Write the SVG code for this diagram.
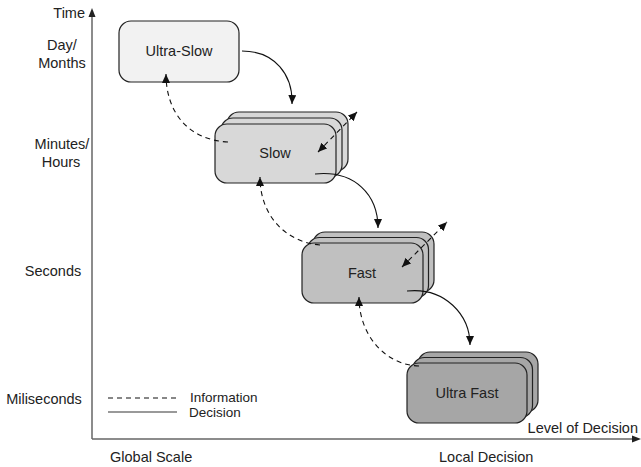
<svg xmlns="http://www.w3.org/2000/svg" width="641" height="467" viewBox="0 0 641 467">
  <defs>
    <style>
      text { font-family: "Liberation Sans", Arial, sans-serif; font-size: 14.5px; fill: #222; }
      .mid { text-anchor: middle; }
      .legend text { font-size: 13.5px; }
      .card { stroke: #222; stroke-width: 1.2; }
      .c1 { fill: #f2f2f2; }
      .c2 { fill: #d8d8d8; }
      .c3 { fill: #c0c0c0; }
      .c4 { fill: #a6a6a6; }
      .axis { stroke: #666; stroke-width: 1.5; fill: none; }
      .dec { stroke: #111; stroke-width: 1.1; fill: none; }
      .info { stroke: #111; stroke-width: 1.1; fill: none; stroke-dasharray: 5 4; }
    </style>
    <marker id="arr" markerUnits="userSpaceOnUse" markerWidth="10" markerHeight="8" refX="9" refY="4" orient="auto">
      <path d="M0,0 L9,4 L0,8 Z" fill="#111"/>
    </marker>
    <marker id="arrStart" markerUnits="userSpaceOnUse" markerWidth="10" markerHeight="8" refX="1" refY="4" orient="auto">
      <path d="M10,0 L1,4 L10,8 Z" fill="#111"/>
    </marker>
  </defs>

  <!-- axes -->
  <g id="axes">
    <line class="axis" x1="92" y1="439" x2="92" y2="15"/>
    <path d="M92,8 L95.5,17 L88.5,17 Z" fill="#222"/>
    <line class="axis" x1="92" y1="439" x2="634" y2="439"/>
    <path d="M641,439 L632,435.5 L632,442.5 Z" fill="#222"/>
    <text x="85" y="18" text-anchor="end">Time</text>
    <text x="62" y="50" class="mid">Day/</text>
    <text x="62" y="68" class="mid">Months</text>
    <text x="62" y="149" class="mid">Minutes/</text>
    <text x="61" y="167" class="mid">Hours</text>
    <text x="53" y="276" class="mid">Seconds</text>
    <text x="44" y="404" class="mid">Miliseconds</text>
    <text x="638" y="433" text-anchor="end">Level of Decision</text>
    <text x="110" y="462">Global Scale</text>
    <text x="439" y="462">Local Decision</text>
  </g>

  <!-- legend -->
  <g id="legend" class="legend">
    <line class="info" x1="108" y1="398" x2="177" y2="398" stroke-dasharray="6 4"/>
    <line x1="108" y1="412" x2="177" y2="412" stroke="#777" stroke-width="1.5"/>
    <text x="190" y="402">Information</text>
    <text x="189" y="417">Decision</text>
  </g>

  <!-- nodes -->
  <g id="ultra-slow">
    <rect class="card c1" x="119" y="21" width="120" height="61" rx="12"/>
    <text x="179" y="56" class="mid">Ultra-Slow</text>
  </g>

  <g id="slow">
    <rect class="card c2" x="227" y="112" width="121" height="59" rx="12"/>
    <rect class="card c2" x="221" y="118" width="121" height="59" rx="12"/>
    <rect class="card c2" x="215" y="124" width="121" height="59" rx="12"/>
    <text x="275" y="158" class="mid">Slow</text>
  </g>

  <g id="fast">
    <rect class="card c3" x="313" y="232" width="121" height="60" rx="12"/>
    <rect class="card c3" x="307.5" y="237.5" width="121" height="60" rx="12"/>
    <rect class="card c3" x="302" y="243" width="121" height="60" rx="12"/>
    <text x="362" y="278" class="mid">Fast</text>
  </g>

  <g id="ultra-fast">
    <rect class="card c4" x="418" y="352" width="120" height="60" rx="12"/>
    <rect class="card c4" x="412.5" y="357.5" width="120" height="60" rx="12"/>
    <rect class="card c4" x="407" y="363" width="120" height="60" rx="12"/>
    <text x="467" y="398" class="mid">Ultra Fast</text>
  </g>

  <!-- connectors -->
  <g id="connectors">
    <path class="dec" d="M242,51 C275,51 293,75 292,104" marker-end="url(#arr)"/>
    <path class="info" d="M228,142 C188,140 166,112 166,74" marker-end="url(#arr)"/>
    <path class="info" d="M318,152 L357,112" marker-start="url(#arrStart)" marker-end="url(#arr)"/>

    <path class="dec" d="M315,174 C355,170 378,195 378,228" marker-end="url(#arr)"/>
    <path class="info" d="M320,245 C285,242 260,215 260,177" marker-end="url(#arr)"/>
    <path class="info" d="M402,267 L447,222" marker-start="url(#arrStart)" marker-end="url(#arr)"/>

    <path class="dec" d="M407,291 C445,287 470,315 470,345" marker-end="url(#arr)"/>
    <path class="info" d="M419,366 C385,365 359,335 359,297" marker-end="url(#arr)"/>
  </g>
</svg>
